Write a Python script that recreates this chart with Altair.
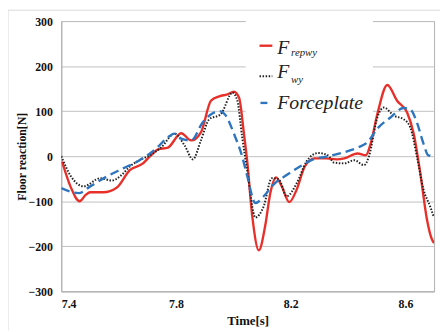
import altair as alt
import pandas as pd

# ---- data ----
red_t = [7.403, 7.432, 7.464, 7.485, 7.501, 7.547, 7.593, 7.639, 7.685, 7.710, 7.738, 7.772, 7.818, 7.853,
         7.887, 7.922, 7.951, 7.979, 8.002, 8.020, 8.037, 8.048, 8.066, 8.089, 8.111, 8.129, 8.149, 8.169,
         8.195, 8.221, 8.249, 8.284, 8.324, 8.360, 8.387, 8.433, 8.462, 8.479, 8.502, 8.537, 8.571, 8.606,
         8.629, 8.652, 8.675, 8.692, 8.700]
red_v = [-12, -67, -100, -86, -80, -80, -70, -31, -16, 0, 15, 19, 51, 35,
         53, 123, 133, 137, 143, 130, 50, -9, -133, -209, -155, -82, -47, -67,
         -102, -74, -23, -5, -5, -7, -5, 6, 2, 28, 93, 158, 123, 97,
         50, -38, -140, -184, -193]

blk_t = [7.400, 7.434, 7.478, 7.536, 7.576, 7.610, 7.639, 7.685, 7.703, 7.749, 7.795, 7.830, 7.859, 7.887,
         7.916, 7.956, 7.997, 8.014, 8.031, 8.048, 8.077, 8.106, 8.134, 8.158, 8.186, 8.221, 8.255, 8.295,
         8.330, 8.350, 8.387, 8.422, 8.456, 8.473, 8.502, 8.525, 8.560, 8.594, 8.617, 8.640, 8.663, 8.686,
         8.698]
blk_v = [0, -45, -67, -49, -54, -42, -23, -5, 0, 20, 50, 24, -7, 35,
         82, 93, 141, 123, 42, -30, -136, -111, -49, -51, -89, -60, -12, 7,
         2, -14, -16, -9, -20, 0, 86, 108, 90, 82, 64, 0, -74, -111,
         -133]

blu_t = [7.400, 7.461, 7.501, 7.559, 7.616, 7.673, 7.731, 7.772, 7.795, 7.818, 7.853, 7.893, 7.951, 7.974,
         8.002, 8.031, 8.048, 8.077, 8.106, 8.140, 8.186, 8.232, 8.278, 8.324, 8.387, 8.433, 8.468, 8.502,
         8.548, 8.594, 8.617, 8.640, 8.663, 8.680, 8.700]
blu_v = [-71, -82, -67, -45, -27, -9, 17, 42, 50, 39, 35, 75, 100, 90,
         50, -1, -43, -104, -89, -63, -42, -23, -7, -1, 9, 19, 31, 61,
         86, 107, 104, 75, 28, 2, 0]

x_ticks = [7.4, 7.8, 8.2, 8.6]
y_ticks = [-300, -200, -100, 0, 100, 200, 300]

SERIF = "Liberation Serif, Times New Roman, serif"
W, H = 378, 274

xs = alt.Scale(domain=[7.4, 8.7], nice=False, zero=False)
ys = alt.Scale(domain=[-300, 300], nice=False)

def series(t, v):
    return pd.DataFrame({"t": t, "v": v})

x_enc = alt.X("t:Q", scale=xs,
              axis=alt.Axis(values=x_ticks, format=".1f", title="Time[s]", grid=False,
                            titleX=W / 2, titleY=30, titleBaseline="middle",
                            labelPadding=7))
y_enc = alt.Y("v:Q", scale=ys,
              axis=alt.Axis(values=y_ticks, title="Floor reaction[N]", grid=True,
                            titleAngle=270, titleX=-40, titleY=H / 2,
                            titleAlign="center", titleBaseline="middle", labelPadding=9))

red = alt.Chart(series(red_t, red_v)).mark_line(
    color="#e8302a", strokeWidth=2.4, interpolate="monotone", clip=True
).encode(x=x_enc, y=y_enc)

blk = alt.Chart(series(blk_t, blk_v)).mark_line(
    color="#222222", strokeWidth=2, strokeDash=[1.5, 1.6], interpolate="monotone", clip=True
).encode(x="t:Q", y="v:Q")

blu = alt.Chart(series(blu_t, blu_v)).mark_line(
    color="#2e75c0", strokeWidth=2.4, strokeDash=[9, 5], interpolate="monotone", clip=True
).encode(x="t:Q", y="v:Q")

one = alt.Data(values=[{"k": 1}])

# legend box (covers gridlines)
box = alt.Chart(one).mark_rect(fill="white", stroke=None).encode(
    x=alt.value(187), x2=alt.value(316), y=alt.value(-2), y2=alt.value(95))

leg_red = alt.Chart(one).mark_rule(color="#e8302a", strokeWidth=2.4).encode(
    x=alt.value(201), x2=alt.value(214), y=alt.value(25))
leg_blk = alt.Chart(one).mark_rule(color="#222222", strokeWidth=2, strokeDash=[1.5, 1.6]).encode(
    x=alt.value(201), x2=alt.value(214), y=alt.value(56))
leg_blu = alt.Chart(one).mark_rule(color="#2e75c0", strokeWidth=2.4).encode(
    x=alt.value(202), x2=alt.value(209), y=alt.value(83))

def txt(s, x, y, size):
    return alt.Chart(one).mark_text(
        font=SERIF, fontStyle="italic", fontSize=size, align="left", baseline="alphabetic",
        color="#222222"
    ).encode(x=alt.value(x), y=alt.value(y), text=alt.value(s))

t1 = txt("F", 219, 33, 20)
t1s = txt("repwy", 233, 35, 11)
t2 = txt("F", 219, 58, 20)
t2s = txt("wy", 233, 63, 11)
t3 = txt("Forceplate", 219, 89, 20)

outer = alt.Chart(one).mark_rect(fill=None, stroke="#d9d9d9", strokeWidth=1).encode(
    x=alt.value(-54), x2=alt.value(400), y=alt.value(-11), y2=alt.value(340))

chart = alt.layer(
    outer, red, blk, blu, box, leg_red, leg_blk, leg_blu, t1, t1s, t2, t2s, t3
).properties(
    width=W, height=H,
    autosize=alt.AutoSizeParams(type="none"),
    padding={"left": 54, "top": 11, "right": 6, "bottom": 38},
).configure_view(
    stroke="#b0b0b0", strokeWidth=1
).configure_axis(
    labelFont=SERIF, labelFontWeight="bold", labelFontSize=12, labelColor="#111111",
    titleFont=SERIF, titleFontWeight="bold", titleFontSize=12, titleColor="#111111",
    ticks=False, domainColor="#b0b0b0", gridColor="#c0c0c0", gridWidth=1
).configure_axisX(titleFontSize=13)

chart.save("out.html", embed_options={"renderer": "svg", "actions": False})
